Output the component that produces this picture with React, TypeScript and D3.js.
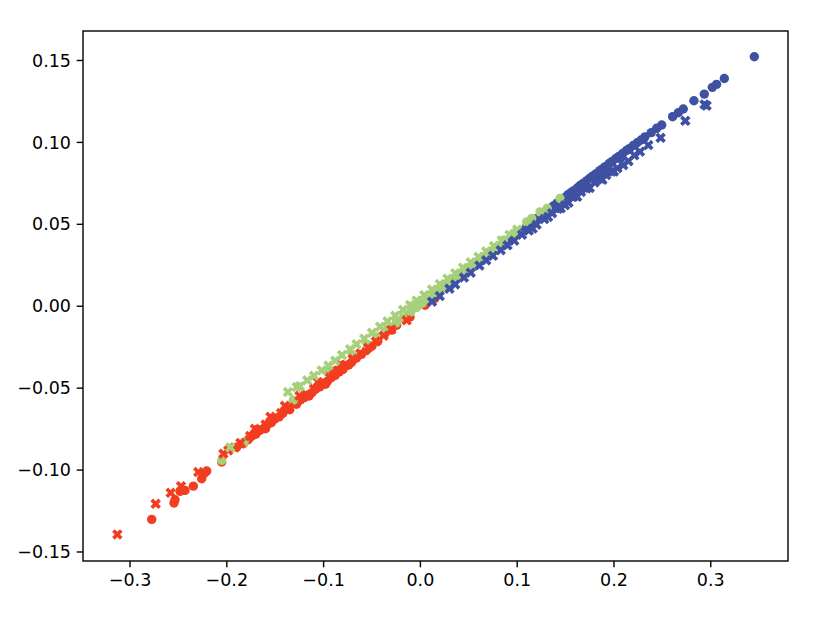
import * as d3 from "d3";

// [x, y] pairs
const blueCircles: [number, number][] = [
  [0.345, 0.1523], [0.314, 0.139], [0.306, 0.1354], [0.3016, 0.1336], [0.2933, 0.1295],
  [0.2826, 0.1254], [0.2716, 0.1204], [0.2664, 0.1181], [0.2606, 0.1157], [0.2493, 0.1106],
  [0.2441, 0.1086], [0.2385, 0.106], [0.232, 0.1034], [0.228, 0.1015], [0.224, 0.0998],
  [0.22, 0.0981], [0.216, 0.0962], [0.213, 0.0951], [0.209, 0.0932], [0.205, 0.0914],
  [0.202, 0.0902], [0.198, 0.0883], [0.195, 0.0871], [0.191, 0.0852], [0.188, 0.0838],
  [0.185, 0.0826], [0.181, 0.0807], [0.178, 0.0794], [0.175, 0.0781], [0.172, 0.0767],
  [0.168, 0.0749], [0.165, 0.0737], [0.162, 0.0722], [0.158, 0.0704], [0.155, 0.0691],
  [0.152, 0.0679], [0.148, 0.0659], [0.145, 0.0648], [0.141, 0.0629], [0.137, 0.061],
  [0.133, 0.0594], [0.129, 0.0575], [0.125, 0.0556], [0.12, 0.0535], [0.115, 0.0512],
  [0.11, 0.049], [0.104, 0.0463], [0.098, 0.0436], [0.091, 0.0405], [0.084, 0.0374],
  [0.207, 0.0905], [0.193, 0.0842], [0.179, 0.0781], [0.166, 0.0722], [0.15, 0.0655],
  [0.135, 0.0589], [0.118, 0.0515],
];

const blueCrosses: [number, number][] = [
  [0.2957, 0.1224], [0.2935, 0.1232], [0.2737, 0.1132], [0.2482, 0.1028], [0.2355, 0.0984],
  [0.2269, 0.0943], [0.221, 0.0921], [0.2096, 0.0861], [0.2035, 0.0843], [0.1976, 0.0821],
  [0.192, 0.0801], [0.1855, 0.078], [0.18, 0.0756], [0.1718, 0.0719], [0.166, 0.0698],
  [0.158, 0.0668], [0.1494, 0.0617], [0.142, 0.0595], [0.136, 0.0568], [0.128, 0.0532],
  [0.12, 0.0498], [0.112, 0.0462], [0.105, 0.0437], [0.097, 0.04], [0.09, 0.0372],
  [0.083, 0.0342], [0.075, 0.0308], [0.068, 0.028], [0.061, 0.0248], [0.052, 0.0205],
  [0.045, 0.0175], [0.036, 0.0133], [0.03, 0.0107], [0.02, 0.0062], [0.012, 0.0028],
  [0.215, 0.0885], [0.2, 0.0823], [0.188, 0.0772], [0.175, 0.0722], [0.162, 0.0668],
  [0.153, 0.0632], [0.145, 0.0598], [0.132, 0.0545], [0.116, 0.0474],
];

const greenCircles: [number, number][] = [
  [-0.2053, -0.0941], [-0.1822, -0.0829], [-0.1313, -0.0574], [-0.095, -0.0405], [-0.07, -0.0298],
  [-0.055, -0.0232], [-0.045, -0.0188], [-0.035, -0.0145], [-0.025, -0.0102], [-0.018, -0.0072],
  [-0.01, -0.0035], [-0.004, -0.0008], [0.002, 0.0018], [0.008, 0.0045], [0.014, 0.0071],
  [0.02, 0.0098], [0.026, 0.0125], [0.032, 0.0152], [0.038, 0.0178], [0.044, 0.0205],
  [0.05, 0.0232], [0.056, 0.0258], [0.062, 0.0284], [0.068, 0.0311], [0.074, 0.0337],
  [0.08, 0.0366], [0.0857, 0.0403], [0.096, 0.0444], [0.1098, 0.0515], [0.115, 0.0536],
  [0.1236, 0.0576], [0.131, 0.0598], [0.1442, 0.0658],
];

const greenCrosses: [number, number][] = [
  [-0.1965, -0.0862], [-0.1368, -0.0524], [-0.1278, -0.0493], [-0.1245, -0.0488], [-0.117, -0.0452],
  [-0.11, -0.0425], [-0.102, -0.0392], [-0.095, -0.0362], [-0.088, -0.0332], [-0.081, -0.0298],
  [-0.0727, -0.0262], [-0.066, -0.0232], [-0.058, -0.0198], [-0.05, -0.0162], [-0.0417, -0.0125],
  [-0.034, -0.0092], [-0.026, -0.0058], [-0.018, -0.0022], [-0.0107, 0.0008], [-0.004, 0.0035],
  [0.004, 0.0068], [0.012, 0.0102], [0.02, 0.0135], [0.028, 0.0168], [0.036, 0.0202],
  [0.044, 0.0235], [0.052, 0.0268], [0.06, 0.0302], [0.068, 0.0335], [0.076, 0.0368],
  [0.084, 0.0402], [0.092, 0.0436], [0.1, 0.0468],
];

const redCircles: [number, number][] = [
  [-0.2776, -0.1301], [-0.2546, -0.1201], [-0.2535, -0.1181], [-0.2483, -0.113], [-0.2432, -0.1124],
  [-0.2346, -0.1098], [-0.226, -0.1053], [-0.2236, -0.1022], [-0.2208, -0.1006], [-0.2053, -0.0951],
  [-0.1898, -0.086], [-0.183, -0.0839], [-0.178, -0.0815], [-0.174, -0.0792], [-0.17, -0.0781],
  [-0.166, -0.0758], [-0.162, -0.0746], [-0.158, -0.0722], [-0.154, -0.0711], [-0.15, -0.0686],
  [-0.146, -0.0675], [-0.142, -0.0652], [-0.128, -0.0598], [-0.124, -0.0572], [-0.12, -0.0558],
  [-0.116, -0.0542], [-0.112, -0.0528], [-0.108, -0.0505], [-0.104, -0.0492], [-0.1, -0.0472],
  [-0.096, -0.0458], [-0.092, -0.0436], [-0.088, -0.0422], [-0.084, -0.0401], [-0.08, -0.0386],
  [-0.076, -0.0362], [-0.071, -0.0341], [-0.066, -0.0316], [-0.061, -0.0294], [-0.056, -0.0271],
  [-0.05, -0.0243], [-0.044, -0.0214], [-0.0366, -0.0167], [-0.03, -0.0146], [-0.0245, -0.0116],
  [-0.0107, -0.0065], [0.0048, 0.0006], [0.015, 0.0047],
  [-0.16, -0.0748], [-0.135, -0.0632], [-0.115, -0.0548], [-0.098, -0.0476], [-0.074, -0.0358],
];

const redCrosses: [number, number][] = [
  [-0.3131, -0.1393], [-0.2735, -0.1206], [-0.258, -0.1139], [-0.2473, -0.1098], [-0.2295, -0.1012],
  [-0.2036, -0.09], [-0.1985, -0.088], [-0.192, -0.0862], [-0.186, -0.0834], [-0.176, -0.0792],
  [-0.168, -0.0756], [-0.16, -0.0722], [-0.152, -0.0686], [-0.144, -0.0652], [-0.136, -0.0618],
  [-0.118, -0.054], [-0.11, -0.0505], [-0.102, -0.0468], [-0.094, -0.0432], [-0.086, -0.0395],
  [-0.078, -0.0358], [-0.07, -0.0322], [-0.062, -0.0288], [-0.054, -0.0252], [-0.046, -0.0215],
  [-0.038, -0.018], [-0.03, -0.0142], [-0.0142, -0.0086],
  [-0.171, -0.0748], [-0.155, -0.0675], [-0.14, -0.0608], [-0.125, -0.0547], [-0.106, -0.0462],
  [-0.09, -0.0392], [-0.082, -0.0358],
];

const xTicks = [-0.3, -0.2, -0.1, 0, 0.1, 0.2, 0.3];
const yTicks = [-0.15, -0.1, -0.05, 0, 0.05, 0.1, 0.15];

const BLUE = "#3f51a3";
const RED = "#f23d20";
const GREEN = "#a7d07b";

const W = 830;
const H = 623;
const plot = { left: 83, right: 788, top: 31, bottom: 561 };

// filled "X" marker outline, unit size
const xShape = [
  [-1, -2], [0, -1], [1, -2], [2, -1], [1, 0], [2, 1],
  [1, 2], [0, 1], [-1, 2], [-2, 1], [-1, 0], [-2, -1],
].map(([a, b]) => [a / 4, b / 4]);

function crossPath(cx: number, cy: number, size: number) {
  return (
    xShape
      .map(([a, b], i) => `${i ? "L" : "M"}${cx + a * size},${cy + b * size}`)
      .join("") + "Z"
  );
}

const fmt = (v: number, digits: number) =>
  (v < 0 ? "\u2212" : "") + Math.abs(v).toFixed(digits);

export default function App() {
  const x = d3.scaleLinear().domain([-0.3486, 0.3798]).range([plot.left, plot.right]);
  const y = d3.scaleLinear().domain([-0.1555, 0.168]).range([plot.bottom, plot.top]);

  const r = 4.7;
  const xs = 10.5;
  const font = "DejaVu Sans, sans-serif";

  const circles = (data: [number, number][], color: string) =>
    data.map((d, i) => (
      <circle key={color + "c" + i} cx={x(d[0])} cy={y(d[1])} r={r} fill={color} />
    ));
  const crosses = (data: [number, number][], color: string) =>
    data.map((d, i) => (
      <path key={color + "x" + i} d={crossPath(x(d[0]), y(d[1]), xs)} fill={color} />
    ));

  return (
    <svg
      width={W}
      height={H}
      style={{ position: "absolute", left: 0, top: 0, background: "#fff" }}
    >
      <rect x={0} y={0} width={W} height={H} fill="#fff" />
      <g>
        {circles(redCircles, RED)}
        {circles(blueCircles, BLUE)}
        {circles(greenCircles, GREEN)}
        {crosses(redCrosses, RED)}
        {crosses(greenCrosses, GREEN)}
        {crosses(blueCrosses, BLUE)}
      </g>

      <rect
        x={plot.left}
        y={plot.top}
        width={plot.right - plot.left}
        height={plot.bottom - plot.top}
        fill="none"
        stroke="#000"
        strokeWidth={1.4}
      />

      {xTicks.map((t) => (
        <g key={"xt" + t} transform={`translate(${x(t)},${plot.bottom})`}>
          <line y1={0} y2={6.3} stroke="#000" strokeWidth={1.4} />
          <text
            y={25}
            textAnchor="middle"
            fontFamily={font}
            fontSize={17.5}
            fill="#000"
          >
            {fmt(t, 1)}
          </text>
        </g>
      ))}

      {yTicks.map((t) => (
        <g key={"yt" + t} transform={`translate(${plot.left},${y(t)})`}>
          <line x1={0} x2={-6.3} stroke="#000" strokeWidth={1.4} />
          <text
            x={-12}
            dy="0.35em"
            textAnchor="end"
            fontFamily={font}
            fontSize={17.5}
            fill="#000"
          >
            {fmt(t, 2)}
          </text>
        </g>
      ))}
    </svg>
  );
}
